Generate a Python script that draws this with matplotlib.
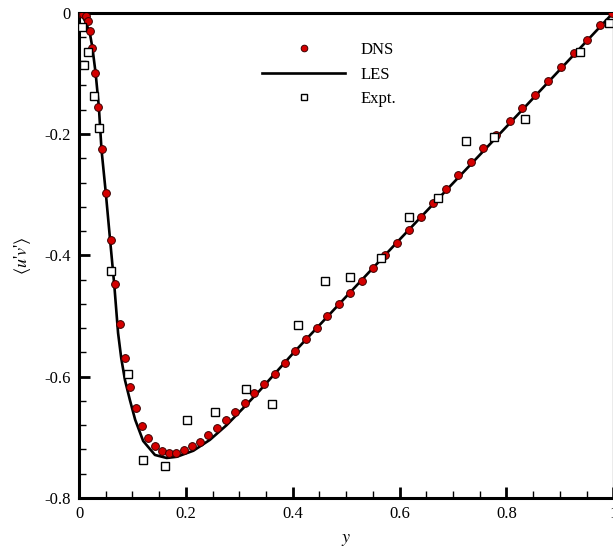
import matplotlib
matplotlib.use("Agg")
import matplotlib.pyplot as plt
from matplotlib.ticker import MultipleLocator, FuncFormatter

# DNS profile (red dots)
dns_y = [0.0, 0.004, 0.008, 0.013, 0.016, 0.020, 0.025, 0.030, 0.036, 0.043,
         0.051, 0.059, 0.067, 0.077, 0.086, 0.096, 0.107, 0.118, 0.129, 0.143,
         0.156, 0.169, 0.182, 0.197, 0.212, 0.227, 0.242, 0.259, 0.275, 0.292,
         0.310, 0.328, 0.347, 0.366, 0.385, 0.404, 0.424, 0.445, 0.465, 0.486,
         0.507, 0.529, 0.550, 0.572, 0.595, 0.618, 0.640, 0.663, 0.686, 0.710,
         0.733, 0.757, 0.781, 0.806, 0.829, 0.853, 0.878, 0.902, 0.926, 0.951,
         0.975, 0.998]
dns_uv = [0.0, -0.001, -0.002, -0.005, -0.013, -0.030, -0.058, -0.099, -0.155, -0.224,
          -0.298, -0.374, -0.447, -0.513, -0.569, -0.617, -0.652, -0.681, -0.701, -0.714,
          -0.723, -0.726, -0.726, -0.721, -0.715, -0.707, -0.696, -0.685, -0.672, -0.659,
          -0.644, -0.627, -0.612, -0.595, -0.577, -0.557, -0.538, -0.520, -0.500, -0.481,
          -0.462, -0.442, -0.421, -0.400, -0.379, -0.359, -0.336, -0.313, -0.291, -0.268,
          -0.246, -0.223, -0.201, -0.179, -0.157, -0.135, -0.112, -0.090, -0.067, -0.045,
          -0.021, 0.0]

# LES profile (solid line)
les_y = [0.0, 0.005, 0.012, 0.020, 0.025, 0.031, 0.037, 0.042, 0.050, 0.058,
         0.066, 0.073, 0.079, 0.086, 0.095, 0.105, 0.120, 0.142, 0.164, 0.183,
         0.214, 0.245, 0.276, 0.307, 0.338, 0.40, 0.50, 0.60, 0.70, 0.80, 0.90, 1.0]
les_uv = [0.0, -0.004, -0.015, -0.033, -0.058, -0.100, -0.155, -0.226, -0.297, -0.374,
          -0.450, -0.528, -0.570, -0.606, -0.638, -0.671, -0.706, -0.729, -0.734, -0.732,
          -0.722, -0.704, -0.680, -0.652, -0.623, -0.562, -0.468, -0.374, -0.281, -0.188,
          -0.094, 0.0]

# Experiment (open squares)
exp_y = [0.006, 0.009, 0.017, 0.028, 0.038, 0.059, 0.092, 0.120, 0.161, 0.202,
         0.255, 0.312, 0.361, 0.410, 0.461, 0.508, 0.565, 0.618, 0.671, 0.725,
         0.777, 0.834, 0.938, 0.992]
exp_uv = [-0.024, -0.086, -0.065, -0.138, -0.190, -0.426, -0.595, -0.737, -0.747, -0.671,
          -0.658, -0.620, -0.645, -0.514, -0.443, -0.435, -0.405, -0.337, -0.305, -0.212,
          -0.205, -0.176, -0.065, -0.017]

plt.rcParams["font.family"] = ["Liberation Serif", "DejaVu Serif"]
plt.rcParams["mathtext.fontset"] = "stix"
plt.rcParams["font.size"] = 12

fig = plt.figure(figsize=(6.13, 5.5), dpi=100)
ax = fig.add_axes([0.129, 0.0945, 0.8715, 0.8825])

ax.plot(les_y, les_uv, color="black", lw=1.9, label="LES", zorder=2)
ax.plot(dns_y, dns_uv, "o", ms=5.6, mfc="#d40000", mec="#3a0000", mew=0.7,
        label="DNS", zorder=3)
ax.plot(exp_y, exp_uv, "s", ms=5.8, mfc="white", mec="black", mew=1.0,
        label="Expt.", zorder=4)

ax.set_xlim(0, 1)
ax.set_ylim(-0.8, 0)
ax.xaxis.set_major_locator(MultipleLocator(0.2))
ax.xaxis.set_minor_locator(MultipleLocator(0.05))
ax.yaxis.set_major_locator(MultipleLocator(0.2))
ax.yaxis.set_minor_locator(MultipleLocator(0.04))


def fmt(v, pos):
    if abs(v) < 1e-9:
        return "0"
    if abs(v - 1) < 1e-9:
        return "1"
    return f"{v:.1f}"


ax.xaxis.set_major_formatter(FuncFormatter(fmt))
ax.yaxis.set_major_formatter(FuncFormatter(fmt))
ax.tick_params(which="both", direction="in", top=False, right=False)
ax.tick_params(which="major", length=8, width=2, pad=6)
ax.tick_params(which="minor", length=5, width=1)
for side in ["left", "bottom", "top"]:
    ax.spines[side].set_linewidth(2.2)
ax.spines["right"].set_linewidth(1.0)
ax.spines["right"].set_color("0.6")

ax.set_xlabel(r"$y$", fontsize=13, labelpad=6)
ax.set_ylabel(r"$\langle u$'$v$'$\rangle$", fontsize=13, labelpad=8)

handles, labels = ax.get_legend_handles_labels()
order = [1, 0, 2]
ax.legend([handles[i] for i in order], [labels[i] for i in order],
          loc="upper left", bbox_to_anchor=(0.327, 0.957), frameon=False,
          handlelength=5.0, handletextpad=0.9, labelspacing=0.52,
          borderpad=0, markerscale=0.85, fontsize=12)

fig.savefig("out.png", dpi=100)
